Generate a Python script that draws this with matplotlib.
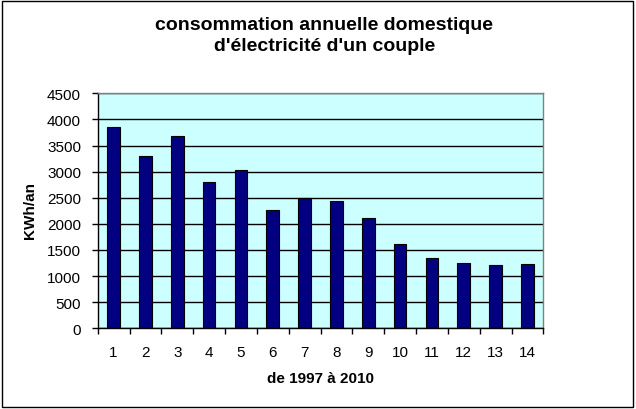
import matplotlib
matplotlib.use("Agg")
import matplotlib.pyplot as plt
from matplotlib.patches import Rectangle
import numpy as np

plt.rcParams["font.family"] = ["Liberation Sans", "DejaVu Sans"]

# data (one bar per year, 1997..2010)
years_idx = list(range(1, 15))
conso = [3860, 3290, 3675, 2810, 3040, 2275, 2495, 2430, 2120, 1605, 1340, 1245, 1205, 1225]
yticks = [0, 500, 1000, 1500, 2000, 2500, 3000, 3500, 4000, 4500]

title = "consommation annuelle domestique\nd'électricité d'un couple"
xlabel = "de 1997 à 2010"
ylabel = "KWh/an"

fig = plt.figure(figsize=(6.36, 4.10), dpi=100)
ax = fig.add_axes([0.1536, 0.1968, 0.7007, 0.5732])

ax.set_facecolor("#CCFFFF")
ax.bar(years_idx, conso, width=0.4, color="#000080", edgecolor="black", linewidth=0.8, zorder=3)

ax.set_xlim(0.5, 14.5)
ax.set_ylim(0, 4500)
ax.set_yticks(yticks)
ax.set_yticklabels([str(v) for v in yticks], fontsize=11)

# category labels on the bars, tick marks between categories
ax.set_xticks(years_idx)
ax.set_xticklabels([str(i) for i in years_idx], fontsize=11)
ax.tick_params(axis="x", which="major", length=0, pad=12)
ax.set_xticks(np.arange(0.5, 15, 1.0), minor=True)
ax.tick_params(axis="x", which="minor", length=4, width=1, direction="out", color="black")
ax.tick_params(axis="y", length=4, width=1, direction="out", pad=8)

ax.yaxis.grid(True, color="black", linewidth=1)
ax.set_axisbelow(True)
for gl in ax.get_ygridlines():
    gl.set_zorder(1)

ax.spines["left"].set_color("black")
ax.spines["bottom"].set_color("black")
ax.spines["top"].set_color("#808080")
ax.spines["right"].set_color("#808080")
for s in ax.spines.values():
    s.set_linewidth(1)
    s.set_zorder(4)

fig.text(0.51, 0.912, title, ha="center", va="center", fontsize=14,
         fontweight="bold", linespacing=1.35)
ax.set_xlabel(xlabel, fontsize=11, fontweight="bold", labelpad=9)
fig.text(0.047, 0.487, ylabel, rotation=90, ha="center", va="center",
         fontsize=11, fontweight="bold")

# outer frame of the chart
fig.patches.append(Rectangle((0.003, 0.004), 0.993, 0.992, transform=fig.transFigure,
                             fill=False, edgecolor="black", linewidth=1))

fig.savefig("out.png", dpi=100)
